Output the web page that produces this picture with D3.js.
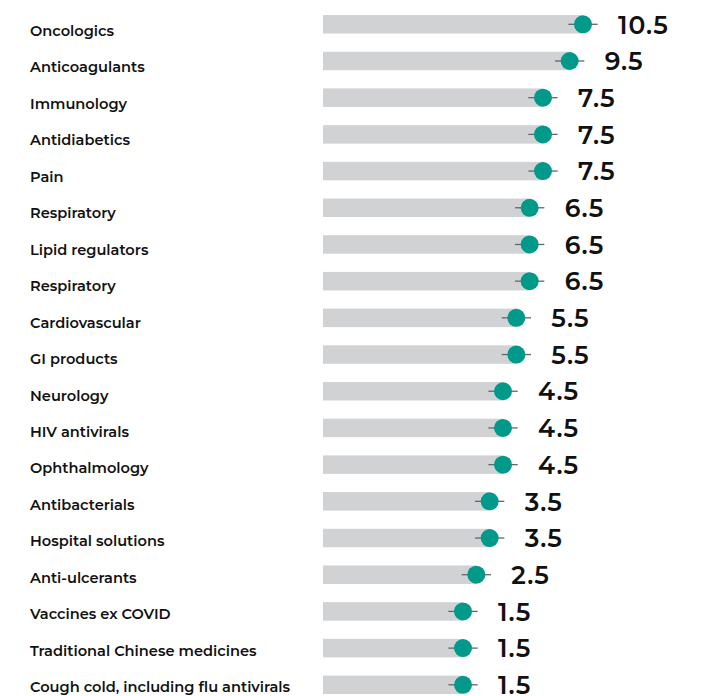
<!DOCTYPE html>
<html>
<head>
<meta charset="utf-8">
<script src="https://cdn.jsdelivr.net/npm/d3@7"></script>
<style>
  body { margin: 0; background: #fff; }
  svg { display: block; }
</style>
</head>
<body>
<div id="chart"></div>
<script>
var width = 702;
var height = 696;

var categories = ["Oncologics", "Anticoagulants", "Immunology", "Antidiabetics", "Pain",
    "Respiratory", "Lipid regulators", "Respiratory", "Cardiovascular", "GI products",
    "Neurology", "HIV antivirals", "Ophthalmology", "Antibacterials", "Hospital solutions",
    "Anti-ulcerants", "Vaccines ex COVID", "Traditional Chinese medicines",
    "Cough cold, including flu antivirals"];
var values = [10.5, 9.5, 7.5, 7.5, 7.5, 6.5, 6.5, 6.5, 5.5, 5.5, 4.5, 4.5, 4.5, 3.5, 3.5, 2.5, 1.5, 1.5, 1.5];
var lows = [9.4, 8.4, 6.4, 6.4, 6.4, 5.4, 5.4, 5.4, 4.4, 4.4, 3.4, 3.4, 3.4, 2.4, 2.4, 1.4, 0.4, 0.4, 0.4];
var highs = [11.6, 10.6, 8.6, 8.6, 8.6, 7.6, 7.6, 7.6, 6.6, 6.6, 5.6, 5.6, 5.6, 4.6, 4.6, 3.6, 2.6, 2.6, 2.6];

var rows = categories.map(function (c, i) {
    return { key: i, name: c, value: values[i], low: lows[i], high: highs[i] };
});

var svg = d3.select("#chart")
    .append("svg")
    .attr("width", width)
    .attr("height", height);

// bars start well left of zero
var xScale = d3.scaleLinear().domain([-9, 12]).range([323, 603]);
var yScale = d3.scalePoint().domain(rows.map(function (d) { return d.key; })).range([24.3, 684.8]);
// category labels sit on a slightly tighter grid than the bars
var labelScale = d3.scalePoint().domain(rows.map(function (d) { return d.key; })).range([35.8, 692.3]);

var barH = 18.5;

svg.selectAll(".label")
    .data(rows)
    .enter()
    .append("text")
    .attr("class", "label")
    .attr("x", 30)
    .attr("y", function (d) { return labelScale(d.key); })
    .attr("font-family", "Montserrat, 'Open Sans', sans-serif")
    .attr("font-weight", 600)
    .attr("font-size", 14.6)
    .attr("fill", "#111")
    .text(function (d) { return d.name; });

var g = svg.selectAll(".row")
    .data(rows)
    .enter()
    .append("g")
    .attr("class", "row")
    .attr("transform", function (d) { return "translate(0," + yScale(d.key) + ")"; });

g.append("rect")
    .attr("x", xScale(-9))
    .attr("y", -barH / 2)
    .attr("width", function (d) { return xScale(d.value) - xScale(-9); })
    .attr("height", barH)
    .attr("fill", "#d1d2d4");

g.append("line")
    .attr("x1", function (d) { return xScale(d.low); })
    .attr("x2", function (d) { return xScale(d.high); })
    .attr("y1", 0)
    .attr("y2", 0)
    .attr("stroke", "#666")
    .attr("stroke-width", 1.3);

g.append("circle")
    .attr("cx", function (d) { return xScale(d.value); })
    .attr("cy", 0)
    .attr("r", 9)
    .attr("fill", "#00998a");

g.append("text")
    .attr("x", function (d) { return xScale(d.value) + 35; })
    .attr("y", 9.2)
    .attr("font-family", "Montserrat, 'Open Sans', sans-serif")
    .attr("font-weight", 600)
    .attr("font-size", 25)
    .attr("letter-spacing", 1)
    .attr("fill", "#111")
    .text(function (d) { return d.value; });
</script>
</body>
</html>
